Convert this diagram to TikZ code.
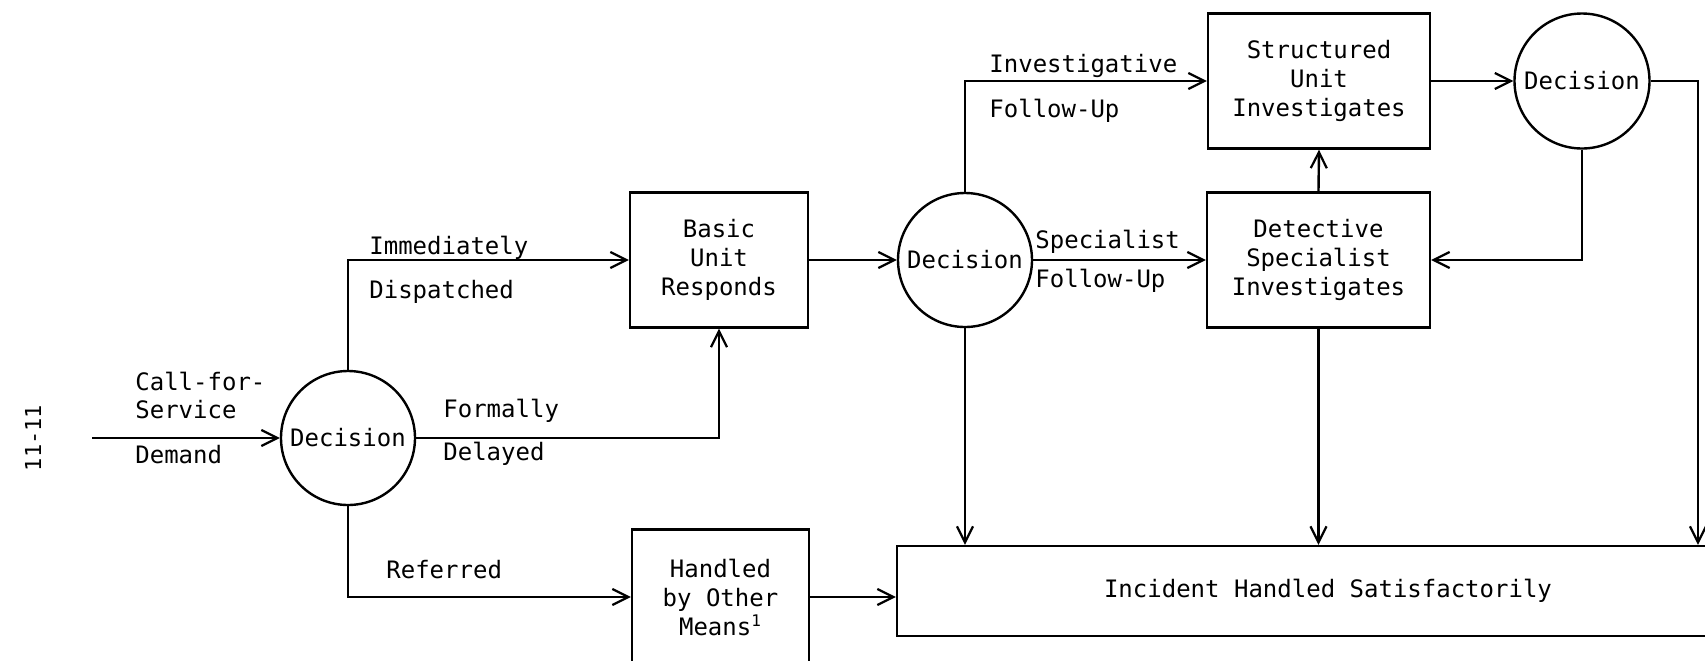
\documentclass[tikz,border=0pt]{standalone}
\usepackage{fontspec}
\newfontfamily\typew{DejaVu Sans Mono}
\usetikzlibrary{arrows.meta}
\tikzset{
  every node/.style={font=\typew\fontsize{12}{14.5}\selectfont},
  boxnode/.style={draw, line width=1.2pt, rectangle, align=center, inner sep=0pt, minimum height=67.5pt},
  decnode/.style={draw, line width=1.2pt, circle, inner sep=0pt, minimum size=67pt},
  lbl/.style={anchor=base west, inner sep=0pt},
  conn/.style={line width=1.2pt},
  arr/.style={conn, -{Straight Barb[length=8pt,width=8pt,line width=1.1pt]}},
}
\begin{document}
\begin{tikzpicture}[x=0.5pt, y=-0.5pt]
\useasboundingbox (0,0) rectangle (1705,660);
\clip (0,0) rectangle (1705,660);
\fill[white] (0,0) rectangle (1705,660);

% nodes
\node[decnode] (d1) at (348,438) {Decision};
\node[boxnode, minimum width=89pt] (basic) at (719,260) {Basic\\Unit\\Responds};
\node[boxnode, minimum width=88.5pt] (handled) at (720.5,597) {Handled\\by Other\\Means\textsuperscript{1}};
\node[decnode] (d2) at (965,260) {Decision};
\node[boxnode, minimum width=111pt] (struct) at (1319,81) {Structured\\Unit\\Investigates};
\node[boxnode, minimum width=111.5pt] (det) at (1318.5,260) {Detective\\Specialist\\Investigates};
\node[decnode, minimum size=67.5pt] (d3) at (1582,81) {Decision};
\node[boxnode, minimum width=431pt, minimum height=45pt] (inc) at (1328,591) {Incident Handled Satisfactorily};

\node[rotate=90, font=\typew\fontsize{11}{13}\selectfont] (pg) at (33,438) {11-11};

% coordinates
\coordinate (in) at (92,438);
\coordinate (c3) at (1698,81);

% connectors
\draw[arr] (in) -- (d1);
\draw[arr] (d1.north) |- (basic.west);
\draw[arr] (d1.east) -| (basic.south);
\draw[arr] (d1.south) |- (handled.west);
\draw[arr] (handled.east) -- (handled.east -| inc.west);
\draw[arr] (basic.east) -- (d2.west);
\draw[arr] (d2.north) |- (struct.west);
\draw[arr] (d2.east) -- (det.west);
\draw[arr] (d2.south) -- (d2.south |- inc.north);
\draw[arr] (det.north) -- (struct.south);
\draw[arr] (det.south) -- (det.south |- inc.north);
\draw[arr] (struct.east) -- (d3.west);
\draw[arr] (d3.south) |- (det.east);
\draw[arr] (d3.east) -- (c3) -- (c3 |- inc.north);

% labels
\node[lbl] (l1) at (135,390) {Call-for-};
\node[lbl] (l2) at (135,418) {Service};
\node[lbl] (l3) at (135,463) {Demand};
\node[lbl] (l4) at (369,254) {Immediately};
\node[lbl] (l5) at (369,298) {Dispatched};
\node[lbl] (l6) at (443,417) {Formally};
\node[lbl] (l7) at (443,460) {Delayed};
\node[lbl] (l8) at (386,578) {Referred};
\node[lbl] (l9) at (989,72) {Investigative};
\node[lbl] (l10) at (989,117) {Follow-Up};
\node[lbl] (l11) at (1035,248) {Specialist};
\node[lbl] (l12) at (1035,287) {Follow-Up};
\end{tikzpicture}
\end{document}
